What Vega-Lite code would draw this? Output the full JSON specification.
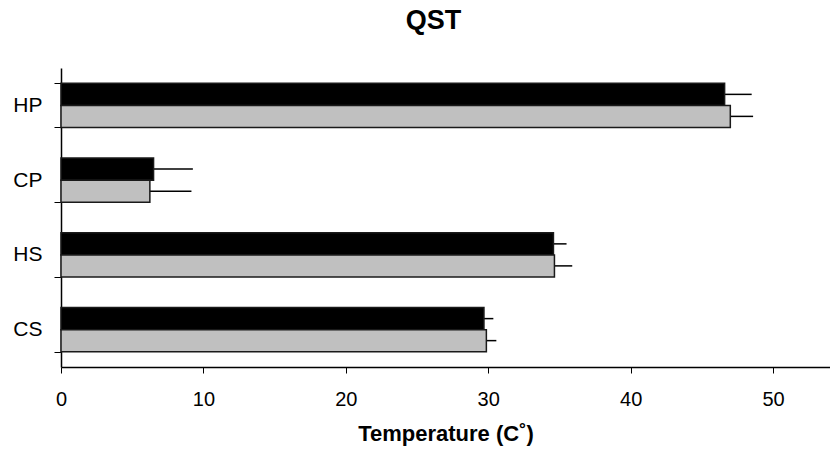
{
  "$schema": "https://vega.github.io/schema/vega-lite/v6.json",
  "width": 769,
  "height": 299,
  "autosize": {"type": "none"},
  "padding": {"left": 61, "top": 68, "right": 0, "bottom": 83},
  "background": "white",
  "config": {
    "view": {"stroke": null},
    "font": "Liberation Sans, Arial, sans-serif"
  },
  "title": {
    "text": "QST",
    "fontSize": 27,
    "fontWeight": "bold",
    "font": "Liberation Sans, Arial, sans-serif",
    "color": "black",
    "anchor": "middle",
    "offset": 22,
    "dx": -12
  },
  "data": {
    "values": [
      {"cat": "HP", "group": "A", "mean": 46.6, "upper": 48.5},
      {"cat": "HP", "group": "B", "mean": 47.0, "upper": 48.6},
      {"cat": "CP", "group": "A", "mean": 6.5, "upper": 9.26},
      {"cat": "CP", "group": "B", "mean": 6.24, "upper": 9.16},
      {"cat": "HS", "group": "A", "mean": 34.58, "upper": 35.5},
      {"cat": "HS", "group": "B", "mean": 34.65, "upper": 35.9},
      {"cat": "CS", "group": "A", "mean": 29.7, "upper": 30.36},
      {"cat": "CS", "group": "B", "mean": 29.87, "upper": 30.57}
    ]
  },
  "encoding": {
    "y": {
      "field": "cat",
      "type": "nominal",
      "sort": ["HP", "CP", "HS", "CS"],
      "scale": {"paddingInner": 0.411, "paddingOuter": 0.2055},
      "axis": {
        "title": null,
        "tickBand": "extent",
        "tickSize": 7,
        "tickColor": "black",
        "tickWidth": 1,
        "domainColor": "black",
        "domainWidth": 1.5,
        "labelFontSize": 21,
        "labelColor": "black",
        "labelPadding": 12,
        "grid": false
      }
    },
    "yOffset": {
      "field": "group",
      "type": "nominal",
      "sort": ["A", "B"],
      "scale": {"paddingInner": 0, "paddingOuter": 0}
    }
  },
  "layer": [
    {
      "mark": {"type": "rule", "stroke": "black", "strokeWidth": 1.5},
      "encoding": {
        "x": {"field": "mean", "type": "quantitative"},
        "x2": {"field": "upper"}
      }
    },
    {
      "mark": {"type": "bar", "stroke": "#1a1a1a", "strokeWidth": 1.5},
      "encoding": {
        "x": {
          "field": "mean",
          "type": "quantitative",
          "scale": {"domain": [0, 54], "nice": false, "zero": true},
          "axis": {
            "title": "Temperature (C˚)",
            "titleFontSize": 22,
            "titleFontWeight": "bold",
            "titleColor": "black",
            "titlePadding": 14,
            "values": [0, 10, 20, 30, 40, 50],
            "tickSize": 6,
            "tickColor": "black",
            "domainColor": "black",
            "domainWidth": 1.5,
            "labelFontSize": 20,
            "labelColor": "black",
            "labelPadding": 16,
            "labelFlush": false,
            "grid": false
          }
        },
        "color": {
          "field": "group",
          "type": "nominal",
          "scale": {"domain": ["A", "B"], "range": ["#000000", "#c0c0c0"]},
          "legend": null
        }
      }
    }
  ]
}
